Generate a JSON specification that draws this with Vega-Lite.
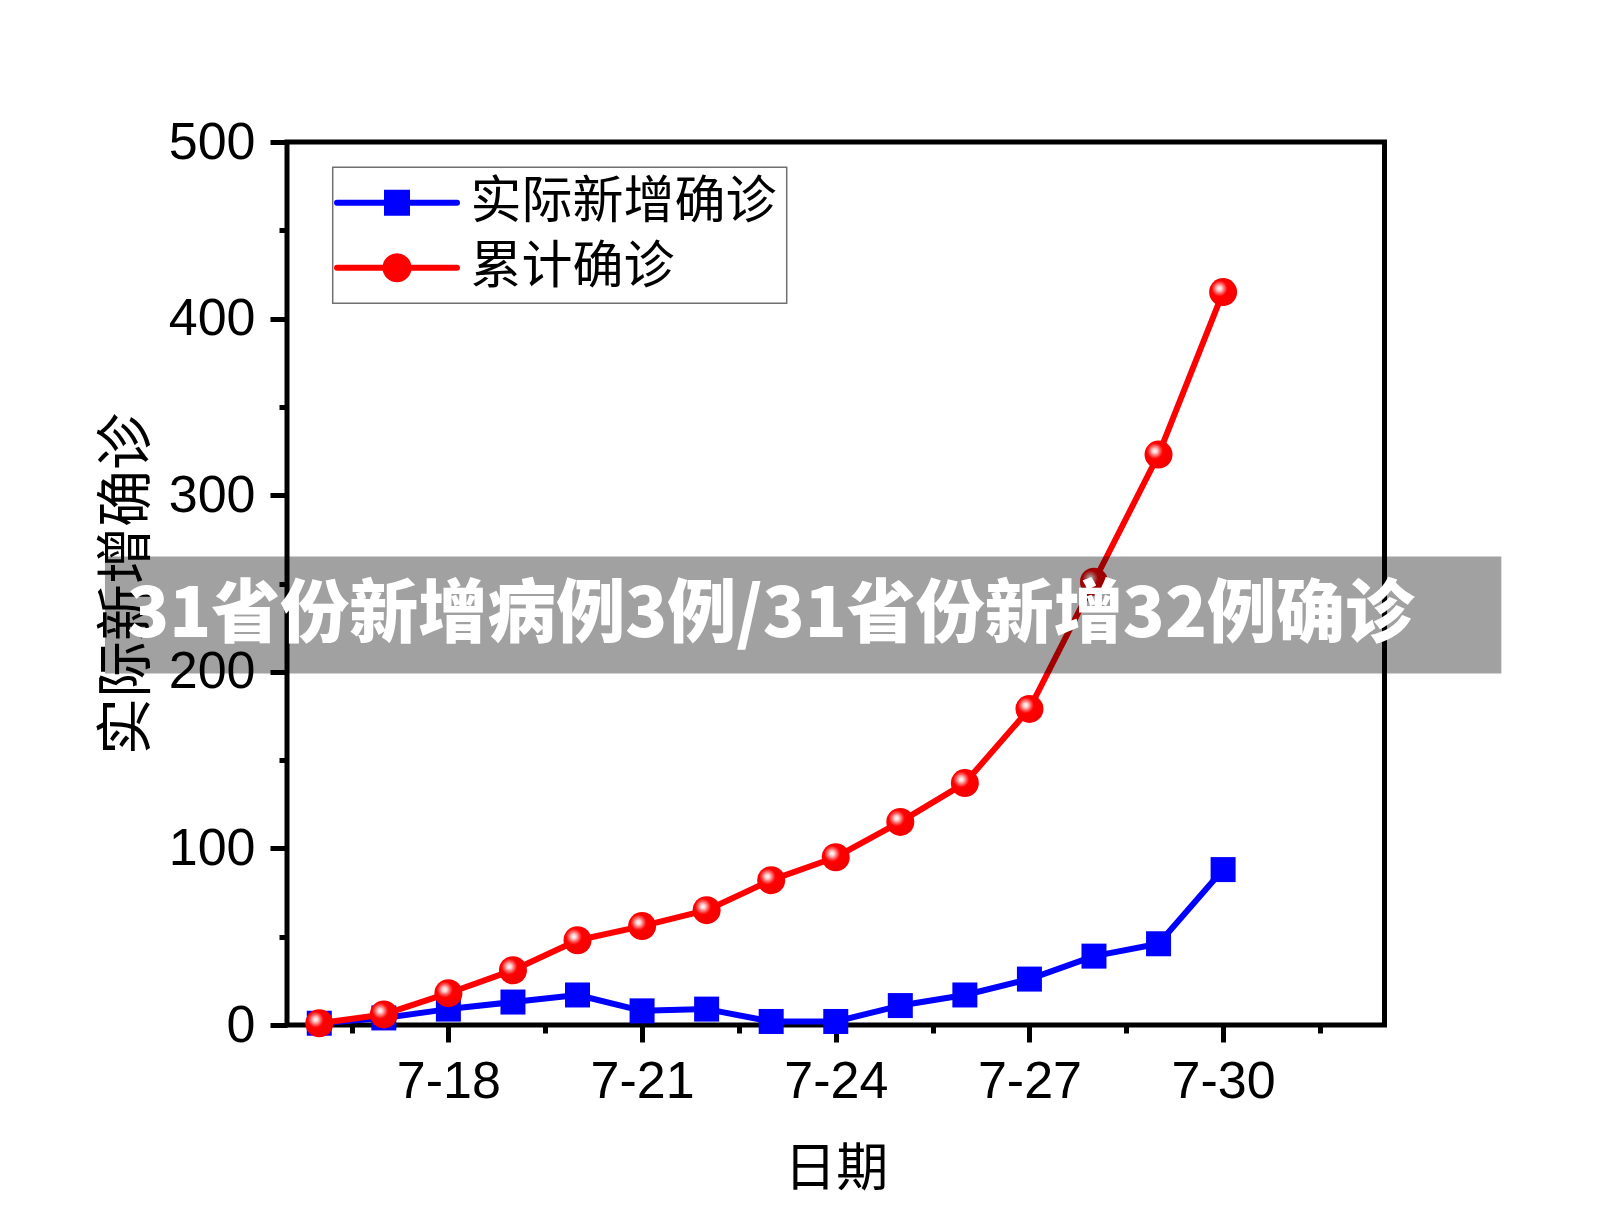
{
  "$schema": "https://vega.github.io/schema/vega-lite/v6.json",
  "width": 1097.5,
  "height": 883,
  "autosize": {"type": "none"},
  "padding": {"left": 287, "top": 142, "right": 223.5, "bottom": 205},
  "background": "white",
  "config": {"view": {"stroke": "black", "strokeWidth": 5}, "font": "Liberation Sans"},
  "datasets": {
    "cases": [
      {"day": 16, "series": "实际新增确诊", "value": 1},
      {"day": 17, "series": "实际新增确诊", "value": 4},
      {"day": 18, "series": "实际新增确诊", "value": 9},
      {"day": 19, "series": "实际新增确诊", "value": 13},
      {"day": 20, "series": "实际新增确诊", "value": 17},
      {"day": 21, "series": "实际新增确诊", "value": 8},
      {"day": 22, "series": "实际新增确诊", "value": 9},
      {"day": 23, "series": "实际新增确诊", "value": 2},
      {"day": 24, "series": "实际新增确诊", "value": 2},
      {"day": 25, "series": "实际新增确诊", "value": 11},
      {"day": 26, "series": "实际新增确诊", "value": 17},
      {"day": 27, "series": "实际新增确诊", "value": 26},
      {"day": 28, "series": "实际新增确诊", "value": 39},
      {"day": 29, "series": "实际新增确诊", "value": 46},
      {"day": 30, "series": "实际新增确诊", "value": 88},
      {"day": 16, "series": "累计确诊", "value": 1},
      {"day": 17, "series": "累计确诊", "value": 6},
      {"day": 18, "series": "累计确诊", "value": 18},
      {"day": 19, "series": "累计确诊", "value": 31},
      {"day": 20, "series": "累计确诊", "value": 48},
      {"day": 21, "series": "累计确诊", "value": 56},
      {"day": 22, "series": "累计确诊", "value": 65},
      {"day": 23, "series": "累计确诊", "value": 82},
      {"day": 24, "series": "累计确诊", "value": 95},
      {"day": 25, "series": "累计确诊", "value": 115},
      {"day": 26, "series": "累计确诊", "value": 137},
      {"day": 27, "series": "累计确诊", "value": 179},
      {"day": 28, "series": "累计确诊", "value": 251},
      {"day": 29, "series": "累计确诊", "value": 323},
      {"day": 30, "series": "累计确诊", "value": 415}
    ]
  },
  "layer": [
    {
      "data": {"name": "cases"},
      "transform": [{"filter": "datum.series === '实际新增确诊'"}],
      "mark": {"type": "line", "strokeWidth": 6, "strokeJoin": "round"},
      "encoding": {
        "x": {
          "field": "day", "type": "quantitative",
          "scale": {"domain": [15.5, 32.5], "nice": false, "zero": false},
          "axis": {
            "title": "日期",
            "values": [16.5, 18, 19.5, 21, 22.5, 24, 25.5, 27, 28.5, 30, 31.5],
            "labelExpr": "datum.value % 3 == 0 ? '7-' + datum.value : ''",
            "tickSize": {"condition": {"test": "datum.value % 3 == 0", "value": 17}, "value": 8},
            "tickWidth": 5, "tickColor": "black",
            "domain": false, "grid": false,
            "labelFont": "Liberation Sans", "labelFontSize": 52, "labelColor": "black",
            "labelPadding": 14, "labelOverlap": false, "labelFlush": false,
            "titleFont": "Noto Sans CJK SC", "titleFontSize": 52, "titleFontWeight": "normal",
            "titleColor": "black", "titlePadding": 37
          }
        },
        "y": {
          "field": "value", "type": "quantitative",
          "scale": {"domain": [0, 500], "nice": false},
          "axis": {
            "title": "实际新增确诊",
            "values": [0, 50, 100, 150, 200, 250, 300, 350, 400, 450, 500],
            "labelExpr": "datum.value % 100 == 0 ? datum.label : ''",
            "tickSize": {"condition": {"test": "datum.value % 100 == 0", "value": 17}, "value": 8},
            "tickWidth": 5, "tickColor": "black",
            "domain": false, "grid": false,
            "labelFont": "Liberation Sans", "labelFontSize": 52, "labelColor": "black",
            "labelPadding": 15, "labelOverlap": false,
            "titleFont": "Noto Sans CJK SC", "titleFontSize": 57, "titleFontWeight": "normal",
            "titleColor": "black", "titlePadding": 12
          }
        },
        "color": {
          "field": "series", "type": "nominal",
          "scale": {"domain": ["实际新增确诊", "累计确诊"], "range": ["#0000ff", "#ff0000"]},
          "legend": {
            "title": null,
            "orient": "none", "legendX": 45.7, "legendY": 25.3,
            "padding": 10, "strokeColor": "#707070", "fillColor": "white",
            "labelFont": "Noto Sans CJK SC", "labelFontSize": 51, "labelColor": "black",
            "labelOffset": 48, "labelLimit": 600,
            "symbolSize": 1600, "symbolOffset": 28.8, "symbolStrokeWidth": 6,
            "rowPadding": 13,
            "encode": {
              "legend": {"update": {"strokeWidth": {"value": 1.5}}},
              "symbols": {
                "update": {
                  "shape": [
                    {"test": "datum.value === '累计确诊'", "value": "M-3,0H3M0.575,0A0.575,0.575 0 1 1 -0.575,0A0.575,0.575 0 1 1 0.575,0Z"},
                    {"value": "M-3,0H3M-0.5,-0.5H0.5V0.5H-0.5Z"}
                  ],
                  "fill": [
                    {"test": "datum.value === '累计确诊'", "value": "#ff0000"},
                    {"value": "#0000ff"}
                  ],
                  "strokeCap": {"value": "round"}
                }
              }
            }
          }
        }
      }
    },
    {
      "data": {"name": "cases"},
      "transform": [{"filter": "datum.series === '实际新增确诊'"}],
      "mark": {"type": "point", "shape": "square", "filled": true, "color": "#0000ff", "size": 625, "opacity": 1},
      "encoding": {
        "x": {"field": "day", "type": "quantitative"},
        "y": {"field": "value", "type": "quantitative"}
      }
    },
    {
      "data": {"name": "cases"},
      "transform": [{"filter": "datum.series === '累计确诊'"}],
      "mark": {"type": "line", "strokeWidth": 6, "strokeJoin": "round"},
      "encoding": {
        "x": {"field": "day", "type": "quantitative"},
        "y": {"field": "value", "type": "quantitative"},
        "color": {"field": "series", "type": "nominal"}
      }
    },
    {
      "data": {"name": "cases"},
      "transform": [{"filter": "datum.series === '累计确诊'"}],
      "mark": {
        "type": "point", "shape": "circle", "filled": true, "size": 784, "opacity": 1,
        "fill": {
          "gradient": "radial",
          "x1": 0.37, "y1": 0.37, "r1": 0,
          "x2": 0.37, "y2": 0.37, "r2": 0.63,
          "stops": [
            {"offset": 0, "color": "#ffffff"},
            {"offset": 0.12, "color": "#ffd6d6"},
            {"offset": 0.3, "color": "#ff5a5a"},
            {"offset": 0.45, "color": "#ff0000"},
            {"offset": 1, "color": "#f50000"}
          ]
        }
      },
      "encoding": {
        "x": {"field": "day", "type": "quantitative"},
        "y": {"field": "value", "type": "quantitative"}
      }
    },
    {
      "data": {"values": [{"banner": "31省份新增病例3例/31省份新增32例确诊"}]},
      "mark": {"type": "rect", "color": "black", "opacity": 0.37},
      "encoding": {
        "x": {"datum": 12.68, "type": "quantitative"},
        "x2": {"datum": 34.31},
        "y": {"datum": 265.3, "type": "quantitative"},
        "y2": {"datum": 199.0}
      }
    },
    {
      "data": {"values": [{"banner": "31省份新增病例3例/31省份新增32例确诊"}]},
      "mark": {"type": "text", "font": "Noto Sans CJK SC", "fontSize": 69, "fontWeight": 900, "color": "white", "align": "center", "baseline": "middle"},
      "encoding": {
        "x": {"datum": 22.99, "type": "quantitative"},
        "y": {"datum": 231.4, "type": "quantitative"},
        "text": {"field": "banner"}
      }
    }
  ]
}
